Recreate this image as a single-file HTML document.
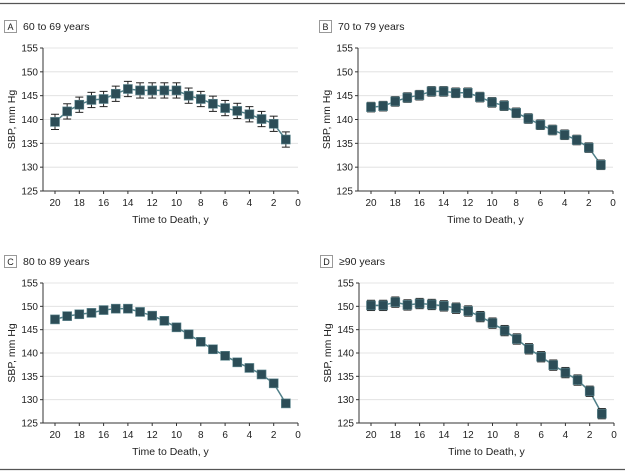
<!DOCTYPE html>
<html><head><meta charset="utf-8"><style>
body{margin:0;background:#fff;width:625px;height:476px;overflow:hidden}
svg{display:block;font-family:"Liberation Sans",sans-serif}
</style></head><body>
<svg id="s" width="625" height="476" xmlns="http://www.w3.org/2000/svg"></svg>
<script>
const panels=[
{L:"A",t:"60 to 69 years",ax:43,x20:55,x0:298,y155:48,y125:191,ly:26,e:1.6,
d:[139.5,141.7,143.1,144.1,144.3,145.4,146.4,146.1,146.1,146.1,146.1,145,144.3,143.3,142.4,141.8,141.1,140.1,139.1,135.8]},
{L:"B",t:"70 to 79 years",ax:358,x20:371,x0:613,y155:48,y125:191,ly:26,e:1.0,
d:[142.6,142.8,143.8,144.6,145.1,145.9,145.9,145.6,145.6,144.7,143.6,142.9,141.4,140.2,138.9,137.8,136.8,135.7,134.1,130.5]},
{L:"C",t:"80 to 89 years",ax:43,x20:55,x0:298,y155:283,y125:423,ly:261,e:0.7,
d:[147.2,147.9,148.3,148.6,149.2,149.5,149.5,148.8,148,146.9,145.5,144,142.4,140.8,139.4,138,136.8,135.4,133.5,129.2]},
{L:"D",t:"\u226590 years",ax:359,x20:371,x0:614,y155:283,y125:423,ly:261,e:1.1,
d:[150.2,150.2,150.9,150.3,150.6,150.4,150.1,149.6,149,147.8,146.4,144.8,143,140.9,139.2,137.4,135.8,134.2,131.8,127]}];
let h='<line x1="0" y1="3.5" x2="625" y2="3.5" stroke="#555" stroke-width="1.2"/><line x1="0" y1="469.5" x2="625" y2="469.5" stroke="#555" stroke-width="1.2"/>';
for(const p of panels){
 const X=v=>p.x0+(p.x20-p.x0)*v/20, Y=v=>p.y125+(p.y155-p.y125)*(v-125)/30;
 const bx=p.ax-39;
 h+=`<rect x="${bx}.5" y="${p.ly-6}.5" width="12" height="12" fill="#fff" stroke="#999"/><text x="${bx+6.5}" y="${p.ly+4}" font-size="9" text-anchor="middle" fill="#222">${p.L}</text><text x="${bx+19}" y="${p.ly+4}" font-size="10.5" fill="#222">${p.t}</text>`;
 for(let v=125;v<=155;v+=5){const y=Y(v);
  if(v>125)h+=`<line x1="${p.ax}" y1="${y}" x2="${p.x0}" y2="${y}" stroke="#ddd" stroke-width="0.8"/>`;
  h+=`<line x1="${p.ax-3}" y1="${y}" x2="${p.ax}" y2="${y}" stroke="#333"/><text x="${p.ax-5}" y="${y+3.5}" font-size="10" text-anchor="end" fill="#222">${v}</text>`;}
 h+=`<line x1="${p.ax}" y1="${p.y155}" x2="${p.ax}" y2="${p.y125}" stroke="#333"/><line x1="${p.ax}" y1="${p.y125}" x2="${p.x0}" y2="${p.y125}" stroke="#333"/>`;
 for(let v=0;v<=20;v+=2){const x=X(v);h+=`<line x1="${x}" y1="${p.y125}" x2="${x}" y2="${p.y125+3}" stroke="#333"/><text x="${x}" y="${p.y125+15}" font-size="10" text-anchor="middle" fill="#222">${v}</text>`;}
 h+=`<text x="${(p.ax+p.x0)/2}" y="${p.y125+32}" font-size="10.5" text-anchor="middle" fill="#222">Time to Death, y</text>`;
 const cy=(p.y155+p.y125)/2;
 h+=`<text transform="translate(${p.ax-28},${cy}) rotate(-90)" font-size="10.5" text-anchor="middle" fill="#222">SBP, mm Hg</text>`;
 let pts=p.d.map((v,i)=>`${X(20-i)},${Y(v)}`).join(' ');
 h+=`<polyline points="${pts}" fill="none" stroke="#4f7f88" stroke-width="1.5"/>`;
 p.d.forEach((v,i)=>{const x=X(20-i),y1=Y(v+p.e),y2=Y(v-p.e);
  h+=`<line x1="${x}" y1="${y1}" x2="${x}" y2="${y2}" stroke="#222"/><line x1="${x-4}" y1="${y1}" x2="${x+4}" y2="${y1}" stroke="#222"/><line x1="${x-4}" y1="${y2}" x2="${x+4}" y2="${y2}" stroke="#222"/>`;
  h+=`<rect x="${x-4.5}" y="${Y(v)-4.5}" width="9" height="9" fill="#2c4d57" stroke="#5f8890" stroke-width="0.6"/>`;});
}
document.getElementById('s').innerHTML=h;
</script>
</body></html>
